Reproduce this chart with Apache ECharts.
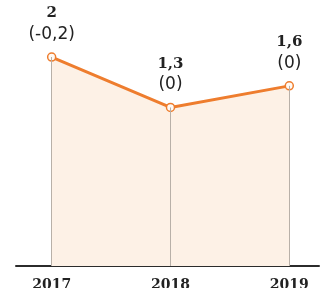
<!DOCTYPE html>
<html>
<head>
<meta charset="utf-8">
<script src="https://cdn.jsdelivr.net/npm/echarts@6/dist/echarts.min.js"></script>
<style>
  html, body { margin: 0; padding: 0; background: #fff; }
  #chart { width: 329px; height: 288px; }
</style>
</head>
<body>
<div id="chart"></div>
<script>
var years = [2017, 2018, 2019];
var values = [2, 1.3, 1.6];
var changes = [-0.2, 0, 0];

var yMin = -0.9;

function comma(v) {
  return String(v).replace('.', ',');
}

var chart = echarts.init(document.getElementById('chart'));

// vertical guide lines from each point down to the axis
var guides = years.map(function (y, i) {
  return [{ coord: [y, values[i]] }, { coord: [y, yMin] }];
});

chart.setOption({
  animation: false,
  grid: { left: 16, right: 10, top: 21, bottom: 22, outerBoundsMode: 'none' },
  xAxis: {
    type: 'value',
    min: 2016.7,
    max: 2019.25,
    axisLine: { onZero: false, lineStyle: { color: '#2b2b2b', width: 2 } },
    axisTick: { show: false },
    splitLine: { show: false },
    axisLabel: {
      customValues: years,
      formatter: function (v) { return String(v); },
      fontFamily: 'DejaVu Serif',
      fontWeight: 'bold',
      fontSize: 14,
      color: '#222',
      margin: 12
    }
  },
  yAxis: {
    type: 'value',
    min: yMin,
    max: 2.5,
    show: false,
    splitLine: { show: false }
  },
  series: [{
    type: 'line',
    data: years.map(function (y, i) { return [y, values[i]]; }),
    symbol: 'circle',
    symbolSize: 8,
    itemStyle: { color: '#fffaf5', borderColor: '#ee7d2e', borderWidth: 1.5 },
    lineStyle: { color: '#ee7d2e', width: 3 },
    areaStyle: { color: '#fdf1e6', origin: 'start', opacity: 1 },
    label: {
      show: true,
      position: 'top',
      distance: 8,
      formatter: function (p) {
        var i = p.dataIndex;
        return '{a|' + comma(values[i]) + '}\n{b|(' + comma(changes[i]) + ')}';
      },
      rich: {
        a: { fontFamily: 'DejaVu Serif', fontWeight: 'bold', fontSize: 15, lineHeight: 22, color: '#222' },
        b: { fontFamily: 'DejaVu Sans', fontSize: 17, lineHeight: 20, color: '#222' }
      }
    },
    markLine: {
      silent: true,
      symbol: 'none',
      label: { show: false },
      lineStyle: { color: '#b8b0a8', width: 1, type: 'solid' },
      data: guides
    },
    z: 3
  }]
});
</script>
</body>
</html>
